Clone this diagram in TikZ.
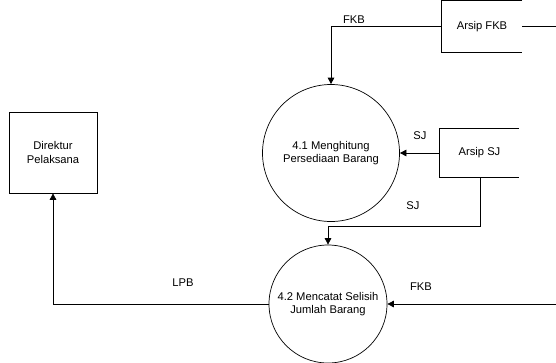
\documentclass[tikz,border=0pt]{standalone}
\usepackage{fontspec}
\setmainfont{Liberation Sans}
\usetikzlibrary{arrows.meta}
\begin{document}
\begin{tikzpicture}[x=1pt,y=-1pt,
  every node/.style={font=\fontsize{11.2}{13.5}\selectfont, align=center, inner sep=0pt},
  proc/.style={circle, draw, line width=0.7pt},
  ent/.style={rectangle, draw, line width=0.7pt},
  store/.style={rectangle},
  flow/.style={line width=0.7pt, -{Triangle[width=6.5pt,length=6.5pt]}},
  line/.style={line width=0.7pt},
  lbl/.style={}]
\useasboundingbox (0,0) rectangle (556,362);
% nodes
\node[proc, minimum size=137pt] (p41) at (331,153) {4.1 Menghitung\\Persediaan Barang};
\node[proc, minimum size=118pt] (p42) at (328,304) {4.2 Mencatat Selisih\\Jumlah Barang};
\node[ent, minimum width=88pt, minimum height=81pt] (dir) at (53,152.5) {Direktur\\Pelaksana};
\node[store, minimum width=80pt, minimum height=51pt] (afkb) at (482,26.5) {Arsip FKB};
\node[store, minimum width=79pt, minimum height=48pt] (asj) at (479.5,153) {Arsip SJ};
% open store boxes
\draw[line] (afkb.north east) -- (afkb.north west) -- (afkb.south west) -- (afkb.south east);
\draw[line] (asj.north east) -- (asj.north west) -- (asj.south west) -- (asj.south east);
% coordinates for free ends
\coordinate (outfkb) at (556,26.5);
\coordinate (infkb) at (556,304);
\coordinate (sjbend) at (480,226);
\coordinate (sjtop) at (480,177);
% connectors
\draw[line] (afkb.east) -- (outfkb);
\draw[flow] (afkb.west) -| (p41.north);
\draw[flow] (asj.west) -- (p41.east);
\draw[flow] (sjtop) -- (sjbend) -| (p42.north);
\draw[flow] (p42.west) -| (dir.south);
\draw[flow] (infkb) -- (p42.east);
% labels
\node[lbl] (l1) at (354,20) {FKB};
\node[lbl] (l2) at (420,136) {SJ};
\node[lbl] (l3) at (413,206) {SJ};
\node[lbl] (l4) at (183,283) {LPB};
\node[lbl] (l5) at (421,287) {FKB};
\end{tikzpicture}
\end{document}
